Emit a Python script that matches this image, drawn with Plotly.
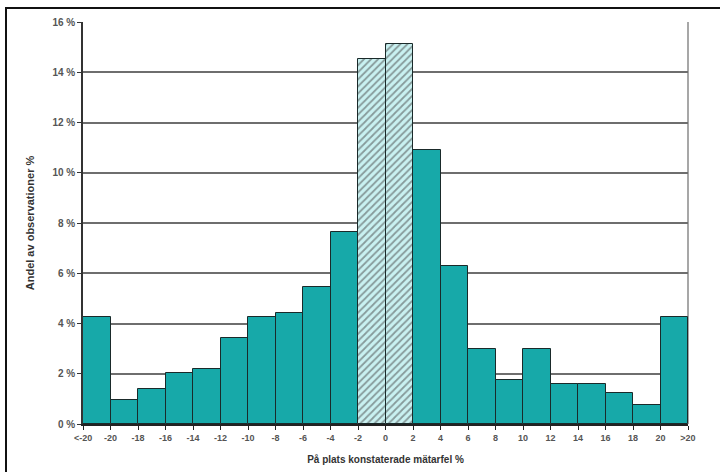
import plotly.graph_objects as go

edge_labels = ["<-20", "-20", "-18", "-16", "-14", "-12", "-10", "-8", "-6", "-4", "-2",
               "0", "2", "4", "6", "8", "10", "12", "14", "16", "18", "20", ">20"]
shares = [4.25, 0.95, 1.38, 2.02, 2.18, 3.44, 4.25, 4.41, 5.45, 7.66,
          14.53, 15.14, 10.9, 6.29, 2.99, 1.75, 2.99, 1.59, 1.59, 1.22, 0.76, 4.25]
hatched = [False] * 10 + [True, True] + [False] * 10

y_ticks = [0, 2, 4, 6, 8, 10, 12, 14, 16]
y_labels = [f"<b>{v} %</b>" for v in y_ticks]

TEAL = "#17A9A9"
LIGHT = "#C9F1F1"

centers = [i + 0.5 for i in range(len(shares))]
colors = [LIGHT if h else TEAL for h in hatched]
shapes_pat = ["/" if h else "" for h in hatched]

fig = go.Figure()
fig.add_trace(go.Bar(
    x=centers, y=shares, width=1.0,
    marker=dict(color=colors,
                line=dict(color="#1a2a2a", width=1),
                pattern=dict(shape=shapes_pat, fillmode="overlay",
                             fgcolor="#2a9f9f", size=5, solidity=0.35)),
    showlegend=False, hoverinfo="y",
))

W, H = 720, 472
L, R, T, B = 83, 32, 22, 48
pw, ph = W - L - R, H - T - B

def px(x):
    return (x - L) / pw

def py(y):
    return (H - B - y) / ph

fig.update_layout(
    width=W, height=H,
    margin=dict(l=L, r=R, t=T, b=B),
    paper_bgcolor="white", plot_bgcolor="white",
    bargap=0,
    font=dict(family="Liberation Sans, Arial, sans-serif", size=9, color="#333"),
    xaxis=dict(range=[0, len(shares)], tickmode="array",
               tickvals=list(range(len(edge_labels))),
               ticktext=[f"<b>{t}</b>" for t in edge_labels],
               ticks="outside", ticklen=4, tickcolor="#222",
               showgrid=False, showline=True, linecolor="#222", linewidth=1.5,
               zeroline=False, fixedrange=True, automargin=False,
               title=dict(text="<b>På plats konstaterade mätarfel %</b>",
                          font=dict(size=10, color="#333"), standoff=14),
               tickfont=dict(size=9, color="#555")),
    yaxis=dict(range=[0, 16], tickmode="array", tickvals=y_ticks, ticktext=y_labels,
               ticks="outside", ticklen=4, tickcolor="#333",
               showgrid=True, gridcolor="#6e6e6e", gridwidth=1.5,
               showline=True, linecolor="#333", linewidth=1.5,
               zeroline=False, fixedrange=True, automargin=False,
               title=dict(text="<b>Andel av observationer %</b>",
                          font=dict(size=11, color="#333"), standoff=16),
               tickfont=dict(size=10, color="#555")),
    shapes=[
        dict(type="line", xref="paper", yref="paper", x0=1, x1=1, y0=0, y1=1,
             line=dict(color="#8a8a8a", width=1.5), layer="below"),
        dict(type="rect", xref="paper", yref="paper",
             x0=px(6), x1=px(730), y0=py(482), y1=py(8),
             line=dict(color="#111", width=2)),
    ],
)

fig.write_html("out.html", config={"displayModeBar": False},
               post_script="document.body.style.margin='0px';")
